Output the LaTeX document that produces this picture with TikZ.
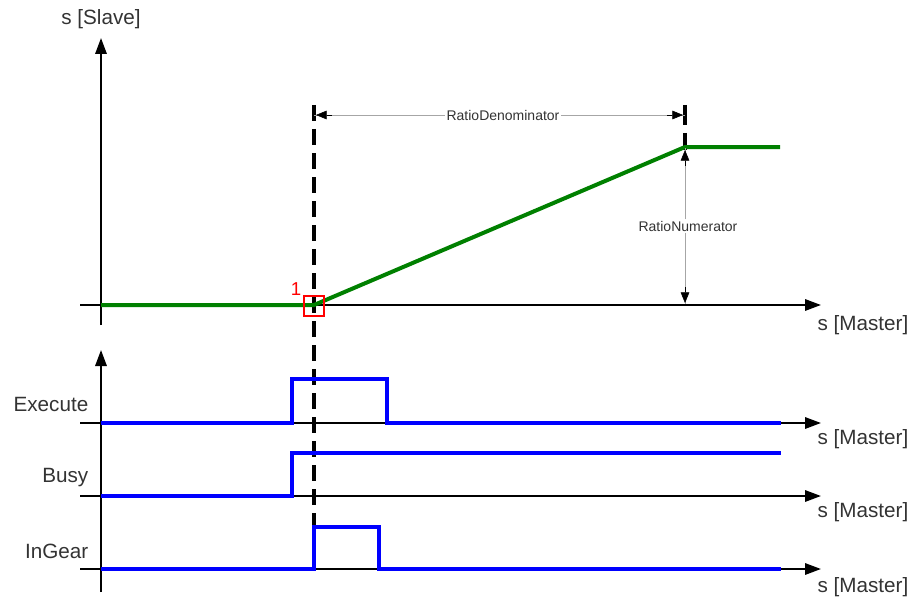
\documentclass[tikz,border=0pt]{standalone}
\usepackage{fontspec}
\setmainfont{Liberation Sans}
\usetikzlibrary{arrows.meta}
\begin{document}
\begin{tikzpicture}[x=0.75pt,y=-0.75pt,
  axis/.style={line width=1.6pt,-{Triangle[length=12pt,width=8.5pt]}},
  sig/.style={blue,line width=3pt,line join=miter},
  slave/.style={green!50!black,line width=3pt},
  lbl/.style={font=\fontsize{15.5}{18}\selectfont,text=black!80},
  small/.style={font=\fontsize{10.5}{12}\selectfont,text=black!80},
  dim/.style={black!35,line width=0.7pt},
  dimtip/.style={-{Triangle[length=8pt,width=6.5pt,black]}},
  dashline/.style={line width=2.3pt,dash pattern=on 12pt off 6pt}]
\useasboundingbox (0,0) rectangle (919,599);
% coordinates
\coordinate (topaxB) at (101,325);
\coordinate (topaxT) at (101,38);
\coordinate (horL) at (80,305);
\coordinate (horR) at (821,305);
\coordinate (botaxB) at (101,592);
\coordinate (botaxT) at (101,350);
\coordinate (exL) at (80,423);
\coordinate (exR) at (821,423);
\coordinate (buL) at (80,496);
\coordinate (buR) at (821,496);
\coordinate (igL) at (80,569);
\coordinate (igR) at (821,569);
% axes
\draw[axis] (topaxB) -- (topaxT);
\node[lbl,anchor=south] (slavelbl) at (101,34) {s [Slave]};
\draw[axis] (horL) -- (horR);
\draw[axis] (botaxB) -- (botaxT);
\draw[axis] (exL) -- (exR);
\draw[axis] (buL) -- (buR);
\draw[axis] (igL) -- (igR);
\node[lbl] (m1) at (863,325) {s [Master]};
\node[lbl] (m2) at (863,439) {s [Master]};
\node[lbl] (m3) at (863,512) {s [Master]};
\node[lbl] (m4) at (863,587) {s [Master]};
\node[lbl,anchor=east] (exlbl) at (93,404) {Execute};
\node[lbl,anchor=east] (bulbl) at (93,478) {Busy};
\node[lbl,anchor=east] (iglbl) at (93,551) {InGear};
% dashed line
\coordinate (dT) at (314,105);
\coordinate (dB) at (314,571);
\draw[dashline] (dT) -- (dB);
\coordinate (rT) at (685,105);
\coordinate (rB) at (685,150);
\draw[line width=2.3pt,dash pattern=on 15pt off 6pt] (rT) -- (rB);
% slave curve
\coordinate (s0) at (101,305);
\coordinate (s1) at (314,305);
\coordinate (s2) at (685,147);
\coordinate (s3) at (780,147);
\draw[slave] (s0) -- (s1) -- (s2) -- (s3);
% signals
\draw[sig] (101,423) -- (292,423) -- (292,379) -- (387,379) -- (387,423) -- (781,423);
\draw[sig] (101,496) -- (292,496) -- (292,453) -- (781,453);
\draw[sig] (101,569) -- (314,569) -- (314,527) -- (379,527) -- (379,569) -- (781,569);
% RatioDenominator
\coordinate (dL) at (314,115);
\coordinate (dR) at (685,115);
\node[small,fill=white,inner sep=1pt] (den) at (503,115) {RatioDenominator};
\draw[dim] (den.west) -- (dL);
\draw[dim] (den.east) -- (dR);
\draw[dimtip] (332,115) -- (316,115);
\draw[dimtip] (667,115) -- (683,115);
% RatioNumerator
\coordinate (nT) at (685,148);
\coordinate (nB) at (685,304);
\node[small,fill=white,inner sep=1pt] (num) at (688,226) {RatioNumerator};
\draw[dim] (num.north -| nT) -- (nT);
\draw[dim] (num.south -| nT) -- (nB);
\draw[dimtip] (685,166) -- (685,150);
\draw[dimtip] (685,287) -- (685,303);
% red marker
\node[draw=red,line width=1.2pt,minimum size=15pt,inner sep=0pt] (mark) at (314,306) {};
\node[text=red,font=\fontsize{14}{16}\selectfont] (one) at (296,289) {1};
\end{tikzpicture}
\end{document}
